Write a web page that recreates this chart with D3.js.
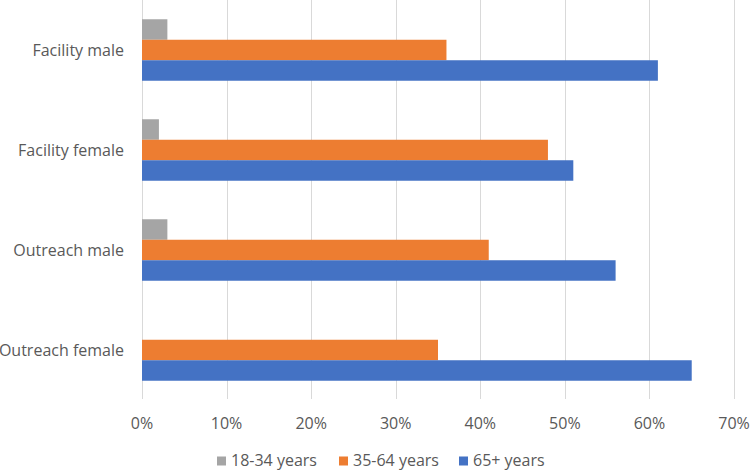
<!DOCTYPE html>
<html><head><meta charset="utf-8">
<script src="https://cdn.jsdelivr.net/npm/d3@7"></script>
<style>body{margin:0;background:#fff}text{font-family:"Open Sans",Lato,sans-serif;fill:#595959}</style>
</head><body><svg id="c" width="750" height="470"></svg>
<script>
const categories = ["Facility male","Facility female","Outreach male","Outreach female"];
const seriesNames = ["18-34 years","35-64 years","65+ years"];
const seriesColors = ["#A5A5A5","#ED7D31","#4472C4"];
const v1834 = [3,2,3,0];
const v3564 = [36,48,41,35];
const v65 = [61,51,56,65];
const tickValues = [0,10,20,30,40,50,60,70];

const values = [v1834, v3564, v65];
const svg = d3.select("#c");
const x = d3.scaleLinear().domain([0,70]).range([142,734]);
const y = d3.scaleBand().domain(categories).range([0,400]).padding(0);
const yi = d3.scaleBand().domain(seriesNames).range([0,y.bandwidth()]).paddingInner(0).paddingOuter(0.94);

// gridlines
svg.append("g").selectAll("line").data(tickValues).join("line")
  .attr("x1",d=>Math.round(x(d))+0.5).attr("x2",d=>Math.round(x(d))+0.5)
  .attr("y1",0).attr("y2",399).attr("stroke","#d9d9d9").attr("stroke-width",1);

// bars
const g = svg.append("g");
categories.forEach((c,ci)=>{
  seriesNames.forEach((s,si)=>{
    const val = values[si][ci];
    if(val<=0) return;
    g.append("rect").attr("x",x(0)).attr("y",y(c)+yi(s))
      .attr("width",x(val)-x(0)).attr("height",yi.bandwidth())
      .attr("fill",seriesColors[si]);
  });
});

// x axis labels
svg.append("g").selectAll("text").data(tickValues).join("text")
  .attr("x",d=>x(d)).attr("y",429).attr("text-anchor","middle")
  .attr("font-size",16).text(d=>d+"%");

// y labels
svg.append("g").selectAll("text").data(categories).join("text")
  .attr("x",124).attr("y",d=>y(d)+y.bandwidth()/2+5.5).attr("text-anchor","end")
  .attr("font-size",16).text(d=>d);

// legend
const legX = [217,339,459];
const lg = svg.append("g");
seriesNames.forEach((s,i)=>{
  lg.append("rect").attr("x",legX[i]).attr("y",456.5).attr("width",9).attr("height",9).attr("fill",seriesColors[i]);
  lg.append("text").attr("x",legX[i]+14).attr("y",466).attr("font-size",16).text(s);
});
</script></body></html>
